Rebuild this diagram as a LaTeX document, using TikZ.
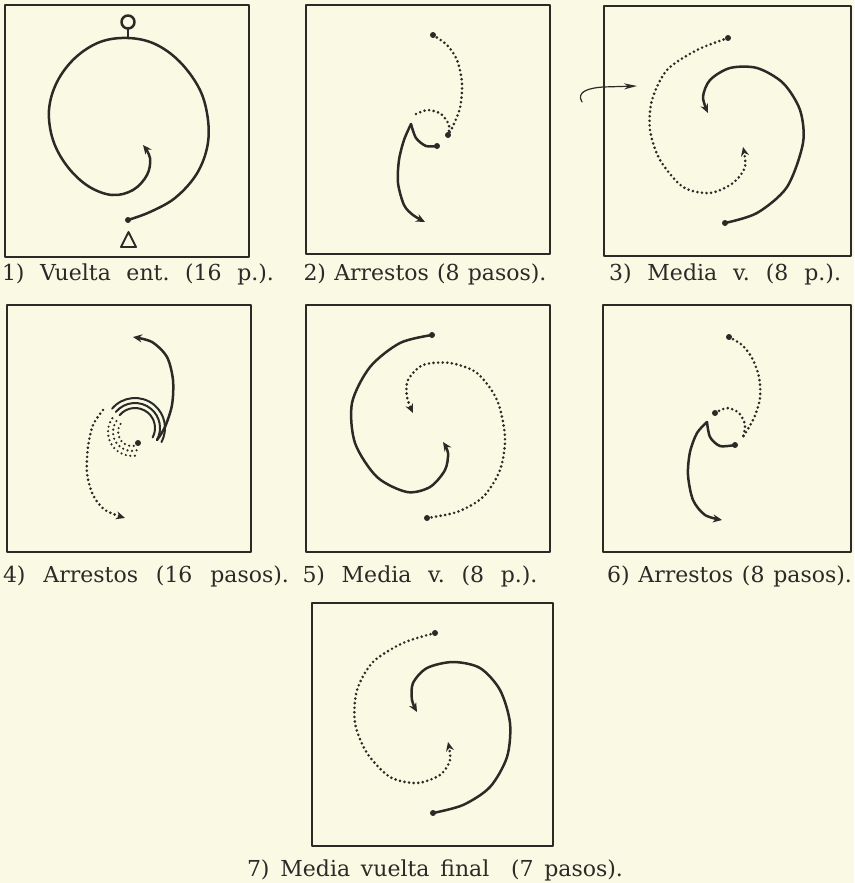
\documentclass[tikz,border=0pt]{standalone}
\usepackage{fontspec}
\setmainfont{DejaVu Serif}
\usetikzlibrary{arrows.meta}
\definecolor{FigureInk}{HTML}{2A2A27}
\definecolor{FigurePaper}{HTML}{FAF9E4}
\newcommand{\leyendatxt}[2]{\frenchspacing\makebox[#1][s]{#2}}

\begin{document}
\begin{tikzpicture}[x=1pt,y=-1pt,line cap=round,line join=round,
  caja/.style={draw=FigureInk,line width=2pt},
  paso/.style={draw=FigureInk,line width=2.5pt},
  punteado/.style={draw=FigureInk,line width=2.9pt,dash pattern=on 0pt off 4.6pt},
  flecha/.style={-{Stealth[length=9pt,width=8pt]}},
  leyenda/.style={text=FigureInk,inner sep=0pt,font=\fontsize{22}{26}\selectfont}]
  \useasboundingbox (0,0) rectangle (854,883);
  \fill[FigurePaper] (0,0) rectangle (854,883);
  \clip (0,0) rectangle (854,883);

  % 1) vuelta entera
  \draw[caja] (5,5) rectangle (249,257);
  \draw[paso] (128,22) circle[radius=6.5pt];
  \draw[paso] (128,28.5) -- (128,38);
  \coordinate (p1ini) at (128,220);
  \draw[paso,flecha] plot[smooth,tension=0.6] coordinates {(p1ini) (150,212) (175,198) (196,175) (207,148) (208,120) (200,90) (180,62) (155,44) (128,38) (100,42) (75,58) (57,82) (49,110) (53,140) (67,166) (88,186) (112,195) (133,190) (147,175) (150,158) (143,145)};
  \fill[FigureInk] (p1ini) circle[radius=3pt];
  \draw[paso,line width=1.9pt] (121,247) -- (136,247) -- (128.5,232) -- cycle;
  \node[leyenda] (cap1) at (138,274) {\leyendatxt{272pt}{1) Vuelta ent. (16 p.).}};

  % 2) arrestos
  \draw[caja] (306,5) rectangle (550,254);
  \coordinate (p2a) at (433,35);\coordinate (p2b) at (448,135);\coordinate (p2c) at (411,124);\coordinate (p2d) at (437,146);
  \draw[punteado] plot[smooth] coordinates {(p2a) (447,45) (457,60) (462,83) (460,108) (452,128) (p2b)};
  \draw[punteado] plot[smooth] coordinates {(416,114) (428,110) (441,114) (449,125) (p2b)};
  \draw[paso] plot[smooth] coordinates {(p2c) (416,138) (426,146) (p2d)};
  \draw[paso,flecha] plot[smooth] coordinates {(p2c) (404,140) (399,160) (398,183) (404,205) (413,215) (425,222)};
  \foreach \p in {p2a,p2b,p2d} \fill[FigureInk] (\p) circle[radius=3pt];
  \node[leyenda] (cap2) at (425,274) {\leyendatxt{243pt}{2) Arrestos (8 pasos).}};

  % 3) media vuelta
  \draw[caja] (604,6) rectangle (851,256);
  \coordinate (p3a) at (728,38);\coordinate (p3b) at (725,223);
  \draw[punteado,flecha] plot[smooth] coordinates {(p3a) (697,50) (667,70) (652,100) (650,130) (660,160) (683,187) (710,193) (733,183) (745,167) (743,147)};
  \draw[paso,flecha] plot[smooth] coordinates {(p3b) (757,213) (787,187) (803,143) (800,110) (783,83) (757,68) (730,68) (710,80) (703,97) (708,113)};
  \foreach \p in {p3a,p3b} \fill[FigureInk] (\p) circle[radius=3pt];
  \draw[FigureInk,line width=1.2pt,-{Stealth[open,length=13pt,width=6pt]}] (582,102) .. controls (576,92) and (588,88) .. (603,87) -- (637,86);
  \node[leyenda] (cap3) at (725,274) {\leyendatxt{232pt}{3) Media v. (8 p.).}};

  % 4) arrestos
  \draw[caja] (7,305) rectangle (251,552);
  \coordinate (c4) at (135,428);\coordinate (p4a) at (157,440);\coordinate (p4b) at (103,410);
  \draw[paso,flecha] plot[smooth] coordinates {(p4a) (165,427) (172,405) (173,380) (167,357) (152,342) (133,337)};
  \foreach \r in {20,25,30} \draw[paso,line width=2pt] (c4) ++(220:\r) arc[start angle=220,end angle=388,radius=\r];
  \foreach \r in {14,19,24} \draw[punteado,line width=2.4pt] (132,432) ++(215:\r) arc[start angle=215,end angle=72,radius=\r];
  \draw[punteado,flecha] plot[smooth] coordinates {(p4b) (93,425) (88,447) (87,473) (93,495) (105,510) (125,518)};
  \fill[FigureInk] (138,443) circle[radius=3pt];
  \node[leyenda] (cap4) at (146,576) {\leyendatxt{286pt}{4) Arrestos (16 pasos).}};

  % 5) media vuelta
  \draw[caja] (306,305) rectangle (550,552);
  \coordinate (p5a) at (432,335);\coordinate (p5b) at (427,518);
  \draw[paso,flecha] plot[smooth] coordinates {(p5a) (400,343) (370,367) (352,403) (355,443) (377,477) (407,492) (430,487) (445,470) (448,453) (443,442)};
  \draw[punteado,flecha] plot[smooth] coordinates {(p5b) (457,512) (483,497) (500,470) (505,437) (497,400) (477,373) (450,363) (423,365) (408,380) (407,397) (413,413)};
  \foreach \p in {p5a,p5b} \fill[FigureInk] (\p) circle[radius=3pt];
  \node[leyenda] (cap5) at (420,576) {\leyendatxt{235pt}{5) Media v. (8 p.).}};

  % 6) arrestos
  \draw[caja] (603,305) rectangle (851,552);
  \coordinate (p6a) at (729,337);\coordinate (p6b) at (743,437);\coordinate (p6c) at (707,422);\coordinate (p6d) at (735,445);\coordinate (p6e) at (715,413);
  \draw[punteado] plot[smooth] coordinates {(p6a) (742,345) (752,358) (759,377) (760,398) (754,418) (p6b)};
  \draw[punteado] plot[smooth] coordinates {(p6e) (727,408) (739,413) (745,425) (p6b)};
  \draw[paso] plot[smooth] coordinates {(p6c) (710,437) (720,446) (p6d)};
  \draw[paso,flecha] plot[smooth] coordinates {(p6c) (697,433) (690,452) (688,475) (693,500) (705,515) (722,520)};
  \foreach \p in {p6a,p6d,p6e} \fill[FigureInk] (\p) circle[radius=3pt];
  \node[leyenda] (cap6) at (729.5,576) {\leyendatxt{245pt}{6) Arrestos (8 pasos).}};

  % 7) media vuelta final
  \draw[caja] (312,603) rectangle (553,846);
  \coordinate (p7a) at (435,633);\coordinate (p7b) at (433,813);
  \draw[punteado,flecha] plot[smooth] coordinates {(p7a) (403,643) (373,662) (357,690) (355,723) (367,753) (390,777) (417,783) (440,775) (450,760) (448,742)};
  \draw[paso,flecha] plot[smooth] coordinates {(p7b) (463,805) (490,787) (507,757) (510,723) (500,690) (480,668) (453,662) (427,668) (413,683) (412,700) (417,712)};
  \foreach \p in {p7a,p7b} \fill[FigureInk] (\p) circle[radius=3pt];
  \node[leyenda] (cap7) at (435,870) {\leyendatxt{376pt}{7) Media vuelta final\ \ (7 pasos).}};
\end{tikzpicture}
\end{document}
